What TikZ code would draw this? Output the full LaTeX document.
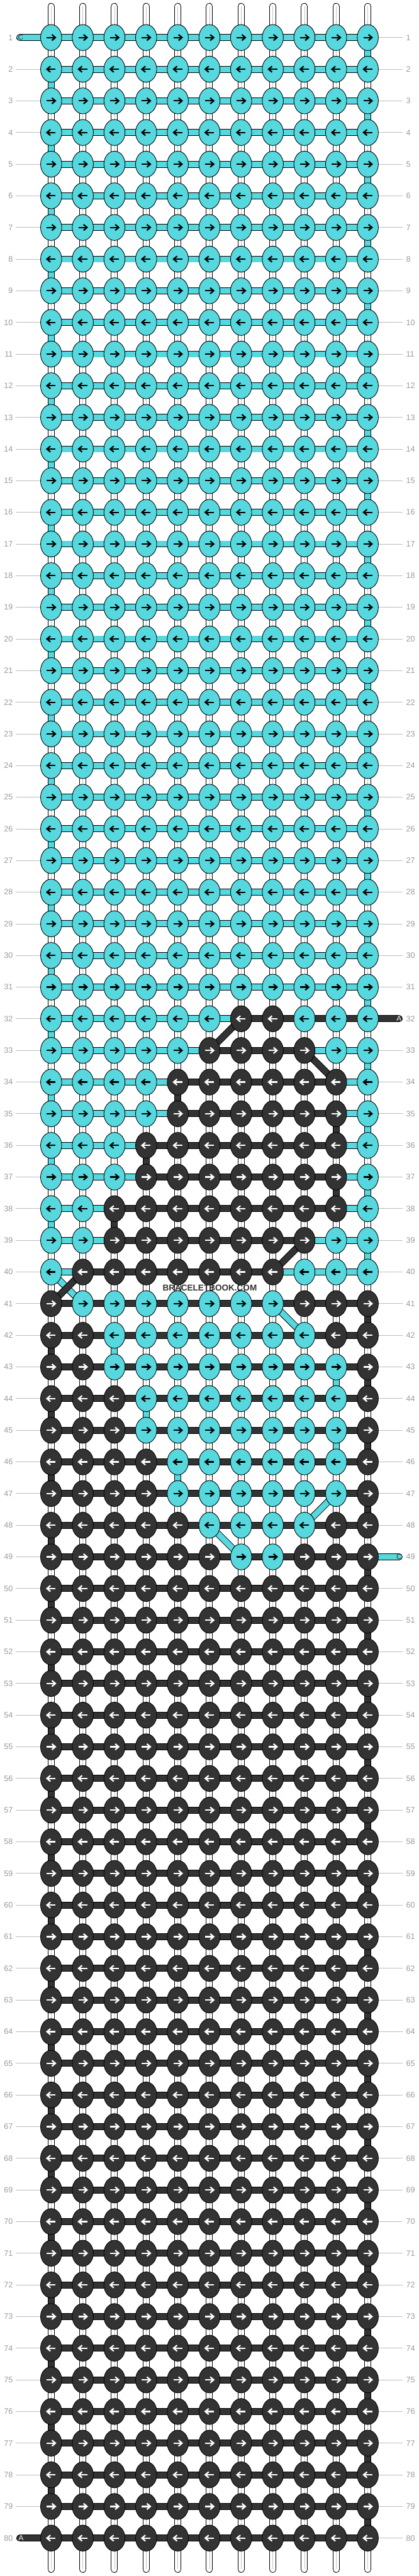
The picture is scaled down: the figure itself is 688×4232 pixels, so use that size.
\documentclass[tikz,border=0pt]{standalone}
\usepackage{fontspec}
\setmainfont{Liberation Sans}
\usetikzlibrary{shapes.geometric}
\definecolor{cC}{HTML}{56D8DE}
\definecolor{cA}{HTML}{333333}
\definecolor{lblgray}{HTML}{9A9A9A}
\definecolor{rulegray}{HTML}{BDBDBD}
\definecolor{tubegray}{HTML}{C4C4C4}
\pgfdeclarelayer{bg}
\pgfsetlayers{bg,main}
\tikzset{
  knot/.style={ellipse, draw=black, line width=0.9pt, minimum width=34.7pt, minimum height=42.7pt, inner sep=0pt},
  band/.style={draw=black, line width=1pt, double=#1, double distance=9.3pt},
  tube/.style={draw=black, line width=1pt, double=white, double distance=9.3pt},
  tubeline/.style={draw=tubegray, line width=0.9pt},
  rowrule/.style={draw=rulegray, line width=0.9pt},
  rownum/.style={text=lblgray, font=\fontsize{13}{13}\selectfont, inner sep=0pt},
  taillabel/.style={font=\fontsize{12}{12}\selectfont, inner sep=0pt},
  arrowline/.style={line width=2.3pt},
}
\newcommand\KsetRow[3]{%
  \foreach \kx [count=\ci] in {#2}{\expandafter\xdef\csname kc-#1-\ci\endcsname{\kx}}%
  \foreach \hx [count=\ci] in {#3}{\expandafter\xdef\csname hc-#1-\ci\endcsname{\hx}}%
}
\newcommand\KsetV[3]{\expandafter\xdef\csname vc-#1-#2\endcsname{#3}}
% plain rows
\foreach \ri in {1,...,31}{\foreach \ci in {1,...,11}{%
  \expandafter\xdef\csname kc-\ri-\ci\endcsname{C}%
  \expandafter\xdef\csname hc-\ri-\ci\endcsname{C}}}
\foreach \ri in {50,...,80}{\foreach \ci in {1,...,11}{%
  \expandafter\xdef\csname kc-\ri-\ci\endcsname{A}%
  \expandafter\xdef\csname hc-\ri-\ci\endcsname{A}}}
% mixed rows
\KsetRow{32}{C,C,C,C,C,C,A,A,C,C,C}{C,C,C,C,C,C,A,A,A,A}
\KsetRow{33}{C,C,C,C,C,A,A,A,A,C,C}{C,C,C,C,C,A,A,A,C,C}
\KsetRow{34}{C,C,C,C,A,A,A,A,A,A,C}{C,C,C,C,A,A,A,A,A,C}
\KsetRow{35}{C,C,C,C,A,A,A,A,A,A,C}{C,C,C,C,A,A,A,A,A,C}
\KsetRow{36}{C,C,C,A,A,A,A,A,A,A,C}{C,C,C,A,A,A,A,A,A,C}
\KsetRow{37}{C,C,C,A,A,A,A,A,A,A,C}{C,C,C,A,A,A,A,A,A,C}
\KsetRow{38}{C,C,A,A,A,A,A,A,A,A,C}{C,C,A,A,A,A,A,A,A,C}
\KsetRow{39}{C,C,A,A,A,A,A,A,A,C,C}{C,C,A,A,A,A,A,A,C,C}
\KsetRow{40}{C,A,A,A,A,A,A,A,C,C,C}{C,A,A,A,A,A,A,C,C,C}
\KsetRow{41}{A,C,C,C,C,C,C,C,A,A,A}{A,A,A,A,A,A,A,A,A,A}
\KsetRow{42}{A,A,C,C,C,C,C,C,C,A,A}{A,A,A,A,A,A,A,A,A,A}
\KsetRow{43}{A,A,C,C,C,C,C,C,C,C,A}{A,A,A,A,A,A,A,A,A,A}
\KsetRow{44}{A,A,A,C,C,C,C,C,C,C,A}{A,A,A,A,A,A,A,A,A,A}
\KsetRow{45}{A,A,A,C,C,C,C,C,C,C,A}{A,A,A,A,A,A,A,A,A,A}
\KsetRow{46}{A,A,A,A,C,C,C,C,C,C,A}{A,A,A,A,A,A,A,A,A,A}
\KsetRow{47}{A,A,A,A,C,C,C,C,C,C,A}{A,A,A,A,A,A,A,A,A,A}
\KsetRow{48}{A,A,A,A,A,C,C,C,C,A,A}{A,A,A,A,A,A,A,A,A,A}
\KsetRow{49}{A,A,A,A,A,A,C,C,A,A,A}{A,A,A,A,A,A,A,A,A,A}
% coloured vertical segments (between row r and r+1)
\foreach \ri in {1,3,...,31}{\KsetV{\ri}{11}{C}}
\foreach \ri in {2,4,...,30}{\KsetV{\ri}{1}{C}}
\foreach \ri in {51,53,...,79}{\KsetV{\ri}{11}{A}}
\foreach \ri in {50,52,...,78}{\KsetV{\ri}{1}{A}}
\foreach \ri/\ci/\vx in {32/1/C, 33/11/C, 34/1/C, 34/5/A, 35/11/C, 35/10/A, 36/1/C, 36/4/A,
  37/11/C, 37/10/A, 38/1/C, 38/3/A, 39/11/C, 41/11/A, 42/1/A, 42/3/C, 43/11/A, 43/10/C,
  44/1/A, 44/4/C, 45/11/A, 45/10/C, 46/1/A, 46/5/C, 47/11/A, 48/1/A, 49/11/A}{\KsetV{\ri}{\ci}{\vx}}
\begin{document}
\begin{tikzpicture}[x=1pt,y=-1pt]
\useasboundingbox (0,0) rectangle (688,4232);
% knots with arrows
\foreach \ri in {1,...,80}{
  \ifodd\ri \def\ds{1}\else\def\ds{-1}\fi
  \foreach \ci in {1,...,11}{
    \edef\kx{\csname kc-\ri-\ci\endcsname}
    \if C\kx \def\acol{black}\else\def\acol{white}\fi
    \node[knot, fill=c\kx] (k-\ri-\ci) at ({84+52*(\ci-1)},{61.7+52*(\ri-1)}) {};
    \begin{scope}[shift={(k-\ri-\ci.center)}, xscale=\ds]
      \draw[arrowline, draw=\acol] (-7.3,0) -- (6.2,0);
      \draw[arrowline, draw=\acol, line join=miter] (1.2,-4.8) -- (6.9,0) -- (1.2,4.8);
    \end{scope}
  }
}
\begin{pgfonlayer}{bg}
  % thread ends top and bottom
  \foreach \ci in {1,...,11}{
    \coordinate (top-\ci) at ({84+52*(\ci-1)},10.5);
    \coordinate (bot-\ci) at ({84+52*(\ci-1)},4221);
    \draw[tube, line cap=round] (top-\ci) -- (k-1-\ci.center);
    \draw[tubeline] (top-\ci) -- (k-1-\ci.center);
    \draw[tube, line cap=round] (k-80-\ci.center) -- (bot-\ci);
    \draw[tubeline] (k-80-\ci.center) -- (bot-\ci);
  }
  % vertical segments
  \foreach \ri [evaluate=\ri as \rn using int(\ri+1)] in {1,...,79}{
    \foreach \ci in {1,...,11}{
      \ifcsname vc-\ri-\ci\endcsname
        \edef\vx{\csname vc-\ri-\ci\endcsname}
        \draw[band=c\vx] (k-\ri-\ci.center) -- (k-\rn-\ci.center);
      \else
        \draw[tube] (k-\ri-\ci.center) -- (k-\rn-\ci.center);
        \draw[tubeline] (k-\ri-\ci.center) -- (k-\rn-\ci.center);
      \fi
    }
  }
  % horizontal segments
  \foreach \ri in {1,...,80}{
    \foreach \ci [evaluate=\ci as \cn using int(\ci+1)] in {1,...,10}{
      \edef\hx{\csname hc-\ri-\ci\endcsname}
      \draw[band=c\hx] (k-\ri-\ci.center) -- (k-\ri-\cn.center);
    }
  }
  % diagonal segments
  \foreach \ra/\ca/\rb/\cb/\dc in {32/7/33/6/A, 33/9/34/10/A, 39/9/40/8/A, 40/1/41/2/C,
    40/2/41/1/A, 41/8/42/9/C, 47/10/48/9/C, 48/6/49/7/C}{
    \draw[band=c\dc] (k-\ra-\ca.center) -- (k-\rb-\cb.center);
  }
  % thread tails
  \coordinate (tailC1) at (32.5,61.7);
  \coordinate (tailA32) at (655.5,{61.7+52*31});
  \coordinate (tailC49) at (655.5,{61.7+52*48});
  \coordinate (tailA80) at (32.5,{61.7+52*79});
  \draw[band=cC, line cap=round] (tailC1) -- (k-1-1.center);
  \draw[band=cA, line cap=round] (k-32-11.center) -- (tailA32);
  \draw[band=cC, line cap=round] (k-49-11.center) -- (tailC49);
  \draw[band=cA, line cap=round] (tailA80) -- (k-80-1.center);
  % row rules
  \foreach \ri in {1,...,80}{
    \ifnum\ri>1 \ifnum\ri<80
      \coordinate (ll-\ri) at (26,{61.7+52*(\ri-1)});
      \draw[rowrule] (ll-\ri) -- (k-\ri-1.west);
    \fi\fi
    \ifnum\ri=32 \else\ifnum\ri=49 \else
      \coordinate (rl-\ri) at (661,{61.7+52*(\ri-1)});
      \draw[rowrule] (k-\ri-11.east) -- (rl-\ri);
    \fi\fi
  }
\end{pgfonlayer}
% tail labels
\node[taillabel, text=cA] (labC1) at (33.8,61.7) {C};
\node[taillabel, text=white] (labA32) at (655.3,{61.7+52*31}) {A};
\node[taillabel, text=cA] (labC49) at (655.3,{61.7+52*48}) {C};
\node[taillabel, text=white] (labA80) at (34.6,{61.7+52*79}) {A};
% row numbers
\foreach \ri in {1,...,80}{
  \node[rownum, anchor=east] (ln-\ri) at (21.3,{61.7+52*(\ri-1)}) {\ri};
  \node[rownum, anchor=west] (rn-\ri) at (666.8,{61.7+52*(\ri-1)}) {\ri};
}
% watermark
\node[font=\bfseries\fontsize{14}{14}\selectfont, text=cA, inner sep=0pt] (wm) at (344.5,2115.7) {BRACELETBOOK.COM};
\end{tikzpicture}
\end{document}
